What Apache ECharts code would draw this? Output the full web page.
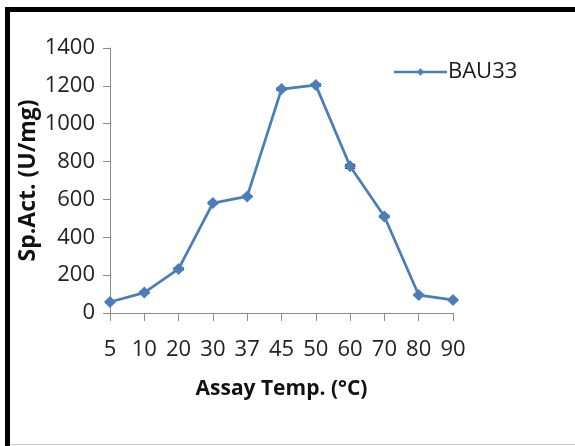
<!DOCTYPE html>
<html>
<head>
<meta charset="utf-8">
<script src="https://cdn.jsdelivr.net/npm/echarts@6/dist/echarts.min.js"></script>
<style>html,body{margin:0;padding:0;background:#fff;}#c{width:575px;height:446px;}</style>
</head>
<body>
<div id="c"></div>
<script>
const categories = ['5','10','20','30','37','45','50','60','70','80','90'];
const activity = [58, 108, 233, 581, 616, 1183, 1204, 775, 510, 95, 69];
const errors = [3, 4, 6, 5, 5, 6, 6, 10, 6, 3, 3];
const yTicks = {min: 0, max: 1400, interval: 200};
const seriesName = 'BAU33';

const chart = echarts.init(document.getElementById('c'), null, {renderer: 'canvas'});
const font = '"Open Sans", "Liberation Sans", sans-serif';
const option = {
  backgroundColor: '#ffffff',
  animation: false,
  grid: {left: 110, right: 122, top: 48, bottom: 133, containLabel: false},
  legend: {
    data: [{name: seriesName, icon: 'path://M0,3.7L53,3.7L53,6.3L0,6.3Z M26.5,1.3L30.2,5L26.5,8.7L22.8,5Z'}],
    left: 389, top: 56,
    itemWidth: 53, itemHeight: 10,
    textStyle: {fontFamily: font, fontSize: 22, color: '#1a1a1a', padding: [0,0,0,-4]}
  },
  xAxis: {
    type: 'category',
    data: categories,
    boundaryGap: false,
    name: 'Assay Temp. (°C)',
    nameLocation: 'middle',
    nameGap: 66,
    nameMoveOverlap: false,
    nameTextStyle: {fontFamily: font, fontSize: 21, fontWeight: 'bold', color: '#111'},
    axisLine: {lineStyle: {color: '#8c8c8c', width: 1}},
    axisTick: {show: true, length: 8, lineStyle: {color: '#8c8c8c'}},
    axisLabel: {fontFamily: font, fontSize: 22, color: '#222', margin: 26},
    splitLine: {show: false}
  },
  yAxis: {
    type: 'value',
    min: yTicks.min, max: yTicks.max, interval: yTicks.interval,
    name: 'Sp.Act. (U/mg)',
    nameLocation: 'middle',
    nameGap: 70,
    nameRotate: 90,
    nameMoveOverlap: false,
    nameTextStyle: {fontFamily: font, fontSize: 23, fontWeight: 'bold', color: '#111'},
    axisLine: {show: true, lineStyle: {color: '#8c8c8c', width: 1}},
    axisTick: {show: true, length: 7, lineStyle: {color: '#8c8c8c'}},
    axisLabel: {fontFamily: font, fontSize: 22, color: '#222', margin: 15, formatter: function (v) { return String(v); }},
    splitLine: {show: false}
  },
  series: [
    {
      type: 'custom',
      name: 'err',
      z: 1,
      silent: true,
      data: activity.map((v, i) => [i, v, errors[i]]),
      renderItem: function (params, api) {
        const x = api.value(0), v = api.value(1), e = api.value(2);
        const top = api.coord([x, v + e]);
        const bot = api.coord([x, v - e]);
        const hw = 5;
        const st = {stroke: '#000', lineWidth: 1.2};
        return {type: 'group', children: [
          {type: 'line', shape: {x1: top[0], y1: top[1], x2: bot[0], y2: bot[1]}, style: st},
          {type: 'line', shape: {x1: top[0]-hw, y1: top[1], x2: top[0]+hw, y2: top[1]}, style: st},
          {type: 'line', shape: {x1: bot[0]-hw, y1: bot[1], x2: bot[0]+hw, y2: bot[1]}, style: st}
        ]};
      }
    },
    {
      type: 'line',
      name: seriesName,
      z: 3,
      data: activity,
      symbol: 'diamond',
      symbolSize: 12,
      lineStyle: {color: '#4a7ebb', width: 2.75},
      itemStyle: {color: '#4a7ebb'}
    }
  ],
  graphic: [
    {type: 'rect', shape: {x: 5, y: 7, width: 570, height: 5}, style: {fill: '#000'}},
    {type: 'rect', shape: {x: 5, y: 7, width: 5, height: 439}, style: {fill: '#000'}},
    {type: 'rect', shape: {x: 10, y: 444, width: 565, height: 1}, style: {fill: '#c8c8c8'}}
  ]
};
chart.setOption(option);
</script>
</body>
</html>
